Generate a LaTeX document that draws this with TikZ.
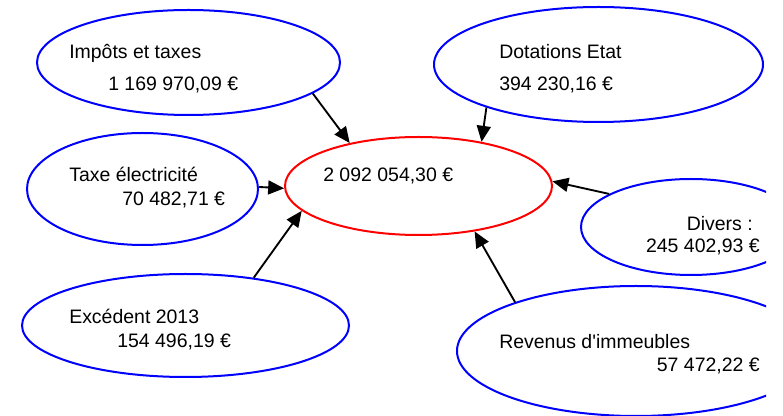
\documentclass[tikz,border=0pt]{standalone}
\usepackage{fontspec}
\setmainfont{Liberation Sans}
\usetikzlibrary{shapes.geometric,arrows.meta}

\begin{document}
\begin{tikzpicture}[x=0.75pt, y=-0.75pt,
        bubble/.style={draw=blue, line width=1.5pt, ellipse, inner sep=0pt},
        sumbubble/.style={draw=red, line width=1.5pt, ellipse, inner sep=0pt},
        txt/.style={inner sep=0pt, font=\fontsize{14.6}{17.5}\selectfont},
        flow/.style={-{Triangle[length=12pt, width=10.5pt]}, line width=1.4pt}]
        \useasboundingbox (0, 0) rectangle (783, 416);
        \clip (0, 0) rectangle (766, 416);

        % Draw the total in the middle
        \node[sumbubble, minimum width=200.25pt, minimum height=73.5pt] (total) at (418.5, 186) {};
        \node[txt, anchor=base west] (totalvalue) at (323, 182) {2 092 054,30 €};

        % Draw the income sources
        \node[bubble, minimum width=227.25pt, minimum height=78.75pt] (impots) at (188.5, 62.5) {};
        \node[bubble, minimum width=246.75pt, minimum height=86.25pt] (dotations) at (598.5, 64.5) {};
        \node[bubble, minimum width=173.25pt, minimum height=84pt] (taxe) at (142.5, 189) {};
        \node[bubble, minimum width=165pt, minimum height=72pt] (divers) at (691, 227) {};
        \node[bubble, minimum width=245.25pt, minimum height=77.25pt] (excedent) at (185.5, 325.5) {};
        \node[bubble, minimum width=268.5pt, minimum height=97.5pt] (revenus) at (636, 351) {};

        % Add the labels and amounts
        \node[txt, anchor=base west] (impotstitle) at (69, 59) {Impôts et taxes};
        \node[txt, anchor=base west] (impotsvalue) at (108, 91) {1 169 970,09 €};
        \node[txt, anchor=base west] (dotationstitle) at (499, 59) {Dotations Etat};
        \node[txt, anchor=base west] (dotationsvalue) at (499, 91) {394 230,16 €};
        \node[txt, anchor=base west] (taxetitle) at (69, 182) {Taxe électricité};
        \node[txt, anchor=base west] (taxevalue) at (122, 206) {70 482,71 €};
        \node[txt, anchor=base east] (diverstitle) at (753, 231) {Divers :};
        \node[txt, anchor=base east] (diversvalue) at (760, 253) {245 402,93 €};
        \node[txt, anchor=base west] (excedenttitle) at (69, 324) {Excédent 2013};
        \node[txt, anchor=base west] (excedentvalue) at (117, 348) {154 496,19 €};
        \node[txt, anchor=base west] (revenustitle) at (499, 349) {Revenus d\textquotesingle immeubles};
        \node[txt, anchor=base east] (revenusvalue) at (760, 372) {57 472,22 €};

        % Draw the arrows
        \draw[flow] (impots.-14) -- (total.148);
        \draw[flow] (dotations.201) -- (total.35);
        \draw[flow] (taxe.1) -- (total.181);
        \draw[flow] (divers.158) -- (total.2);
        \draw[flow] (excedent.35) -- (total.192);
        \draw[flow] (revenus.158) -- (total.-39);

    \end{tikzpicture}
\end{document}
